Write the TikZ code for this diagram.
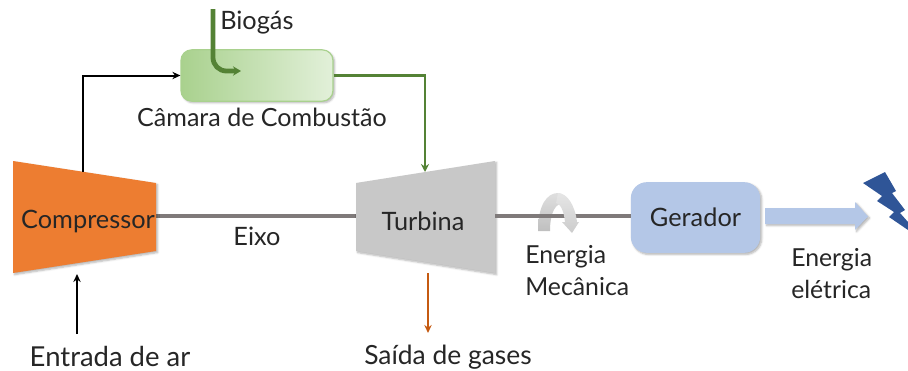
\documentclass[tikz,border=0pt]{standalone}
\usepackage{fontspec}
\setmainfont{Lato}
\usetikzlibrary{arrows.meta,calc,shadows.blur}
\definecolor{txt}{HTML}{262626}
\definecolor{orangefill}{HTML}{ED7D31}
\definecolor{turbfill}{HTML}{C8C8C8}
\definecolor{shaftc}{HTML}{7F7A7A}
\definecolor{greenc}{HTML}{548235}
\definecolor{gerfill}{HTML}{B4C7E7}
\definecolor{boltc}{HTML}{2F5597}
\definecolor{rustc}{HTML}{C55A11}
\definecolor{chamL}{HTML}{A9D18E}
\definecolor{chamR}{HTML}{E2F0D9}
\definecolor{chamB}{HTML}{A9D18E}
\tikzset{
  lbl/.style={text=txt,font=\fontsize{19}{23}\selectfont,inner sep=0pt,align=left},
  softshadow/.style={blur shadow={shadow xshift=1.2pt,shadow yshift=-1.2pt,shadow blur steps=5,shadow opacity=30,shadow blur radius=1.5pt}},
  shaftline/.style={draw=shaftc,line width=3.4pt},
  thinarrow/.style={line width=1.5pt,-{Stealth[length=6pt,width=5.5pt]}},
  greenarrow/.style={line width=1.9pt,-{Stealth[length=6pt,width=6pt]}},
}
\begin{document}
\begin{tikzpicture}[x=0.75pt,y=-0.75pt]
\useasboundingbox (0,0) rectangle (908,371);
% free ends and anchors
\coordinate (shaftA) at (156,216);
\coordinate (shaftB) at (356,216);
\coordinate (shaftC) at (495,216);
\coordinate (compTop) at (83,172);
\coordinate (turbTop) at (425,172);
\coordinate (turbOut) at (428,273);
\coordinate (gasEnd) at (428,333);
\coordinate (airStart) at (77,334);
\coordinate (airEnd) at (77,274);
\coordinate (bioStart) at (213,9);
\coordinate (bioEnd) at (241,71);
% shaft
\draw[shaftline] (shaftA) -- (shaftB);
% compressor and turbine
\path[fill=orangefill,softshadow] (13,161) -- (156,183) -- (156,251) -- (13,273) -- cycle;
\path[fill=turbfill,softshadow] (356,183) -- (495,161) -- (495,273) -- (356,251) -- cycle;
\node[lbl] (compressor) at (88,221) {Compressor};
\node[lbl] (turbina) at (423,221) {Turbina};
% chamber
\node[draw=chamB,line width=0.9pt,rounded corners=8pt,
  minimum width=114pt,minimum height=38.5pt,left color=chamL,right color=chamR,
  softshadow] (chamber) at (257,75.5) {};
% gerador
\node[fill=gerfill,rounded corners=12pt,minimum width=97pt,minimum height=53pt,softshadow,lbl] (gerador) at (695.5,217.5) {Gerador};
% curved energy arrow, left leg behind the shaft
\path[top color=gray!25!white,bottom color=gray!50!white]
  (538,231) .. controls (538,205) and (547,193) .. (558,193)
  .. controls (562,193) and (565,198) .. (564,204)
  .. controls (556,202) and (550,212) .. (550,231) -- cycle;
\draw[shaftline] (shaftC) -- (shaftC -| gerador.west);
\path[top color=gray!20!white,bottom color=gray!40!white]
  (558,193) .. controls (567,193) and (575,205) .. (577,222) -- (579,222) -- (572,233) -- (562,222) -- (565,222)
  .. controls (564,212) and (561,204) .. (556,203) -- cycle;
% electric arrow
\path[fill=gerfill,softshadow] (765,208) -- (855,208) -- (855,202) -- (868,216.5) -- (855,230) -- (855,224) -- (765,224) -- cycle;
% bolt
\path[fill=boltc] (863,183) -- (885,172) -- (896,191) -- (892,193) -- (905,210) -- (900,213) -- (908,222) -- (908,230) -- (889,217) -- (894,212) -- (877,201) -- (882,196) -- cycle;
% connectors
\draw[black,thinarrow] (compTop) -- (compTop |- chamber.west) -- (chamber.west);
\draw[greenc,greenarrow] (chamber.east) -| (turbTop);
\draw[rustc,thinarrow] (turbOut) -- (gasEnd);
\draw[black,thinarrow] (airStart) -- (airEnd);
\draw[greenc,line width=3.6pt,-{Stealth[length=6pt,width=7pt]},rounded corners=10pt] (bioStart) -- (bioStart |- bioEnd) -- (bioEnd);
% labels
\node[lbl,anchor=west] (biogas) at (220,23) {Biogás};
\node[lbl,font=\fontsize{18.8}{23}\selectfont] (camara) at (262,117) {Câmara de Combustão};
\node[lbl] (eixo) at (257,236) {Eixo};
\node[lbl,anchor=west,font=\fontsize{18.6}{23}\selectfont] (mec) at (525,270.5) {Energia\\[1pt]Mecânica};
\node[lbl,anchor=west,font=\fontsize{18.6}{23}\selectfont] (ele) at (791,274) {Energia\\[1pt]elétrica};
\node[lbl,font=\fontsize{20.6}{23}\selectfont] (ar) at (110,356) {Entrada de ar};
\node[lbl,font=\fontsize{19.8}{23}\selectfont] (gases) at (448,357) {Saída de gases};
\end{tikzpicture}
\end{document}
